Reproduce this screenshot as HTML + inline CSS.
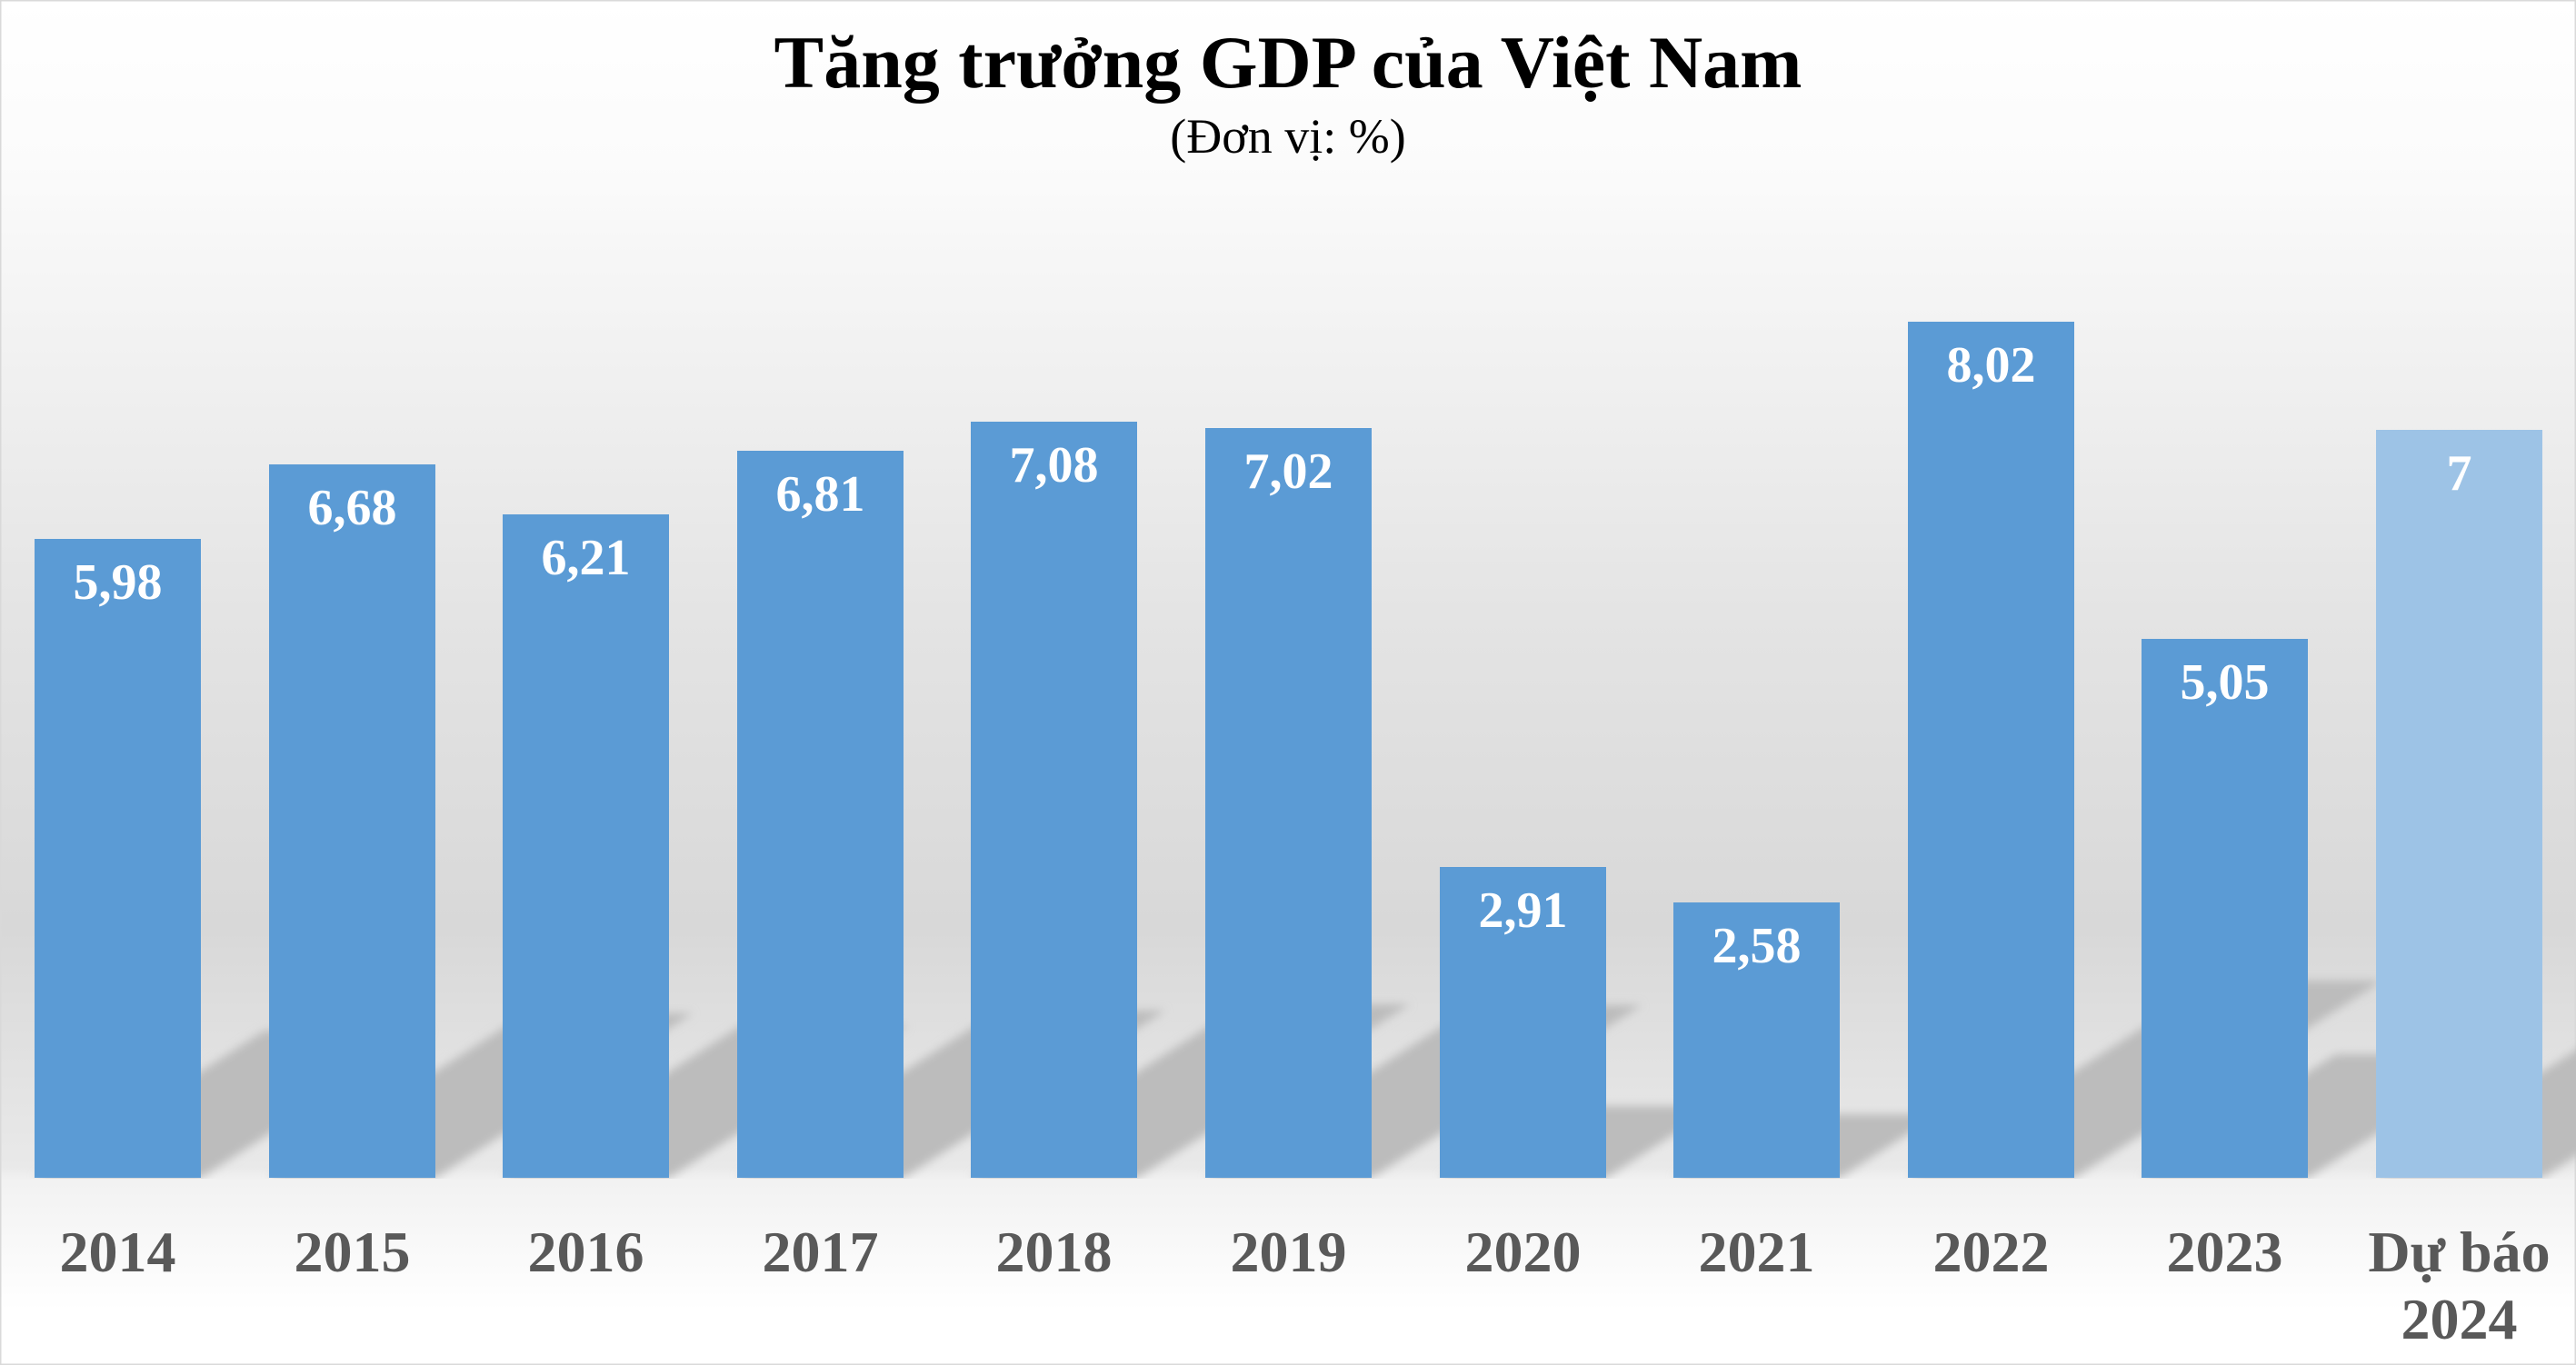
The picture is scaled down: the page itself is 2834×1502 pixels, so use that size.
<!DOCTYPE html>
<html><head><meta charset="utf-8"><style>
html,body{margin:0;padding:0;background:#fff}
svg{display:block}
</style></head><body>
<svg width="2834" height="1502" viewBox="0 0 2834 1502" xmlns="http://www.w3.org/2000/svg">
<defs>
<linearGradient id="bg" x1="0" y1="0" x2="0" y2="1502" gradientUnits="userSpaceOnUse">
<stop offset="0" stop-color="#ffffff"/>
<stop offset="0.12" stop-color="#fbfbfb"/>
<stop offset="0.45" stop-color="#e4e4e4"/>
<stop offset="0.68" stop-color="#d8d8d8"/>
<stop offset="0.855" stop-color="#e9e9e9"/>
<stop offset="0.865" stop-color="#f2f2f2"/>
<stop offset="0.96" stop-color="#ffffff"/>
<stop offset="1" stop-color="#ffffff"/>
</linearGradient>
<filter id="blur" x="-20%" y="-20%" width="140%" height="140%"><feGaussianBlur stdDeviation="5"/></filter>
<clipPath id="plot"><rect x="0" y="0" width="2834" height="1297"/></clipPath>
</defs>
<rect x="0" y="0" width="2834" height="1502" fill="url(#bg)"/>
<rect x="0.5" y="0.5" width="2833" height="1501" fill="none" stroke="#d9d9d9" stroke-width="2"/>
<g clip-path="url(#plot)" filter="url(#blur)" fill="#bcbcbc">
<polygon points="38,1296 221,1296 474,1134 291,1134"/>
<polygon points="296,1296 479,1296 762,1115 579,1115"/>
<polygon points="553,1296 736,1296 999,1128 816,1128"/>
<polygon points="811,1296 994,1296 1282,1112 1099,1112"/>
<polygon points="1068,1296 1251,1296 1551,1105 1368,1105"/>
<polygon points="1326,1296 1509,1296 1806,1106 1623,1106"/>
<polygon points="1584,1296 1767,1296 1890,1217 1707,1217"/>
<polygon points="1841,1296 2024,1296 2133,1226 1950,1226"/>
<polygon points="2099,1296 2282,1296 2621,1079 2438,1079"/>
<polygon points="2356,1296 2539,1296 2753,1160 2570,1160"/>
<polygon points="2614,1296 2797,1296 3093,1107 2910,1107"/>
</g>
<g fill="#5b9bd5">
<rect x="38" y="593" width="183" height="703"/>
<rect x="296" y="511" width="183" height="785"/>
<rect x="553" y="566" width="183" height="730"/>
<rect x="811" y="496" width="183" height="800"/>
<rect x="1068" y="464" width="183" height="832"/>
<rect x="1326" y="471" width="183" height="825"/>
<rect x="1584" y="954" width="183" height="342"/>
<rect x="1841" y="993" width="183" height="303"/>
<rect x="2099" y="354" width="183" height="942"/>
<rect x="2356" y="703" width="183" height="593"/>
</g>
<rect x="2614" y="473" width="183" height="823" fill="#9dc3e6"/>
<g font-family="'Liberation Serif', serif" font-weight="bold" font-size="56" fill="#ffffff" text-anchor="middle">
<text x="129.5" y="659">5,98</text>
<text x="387.5" y="577">6,68</text>
<text x="644.5" y="632">6,21</text>
<text x="902.5" y="562">6,81</text>
<text x="1159.5" y="530">7,08</text>
<text x="1417.5" y="537">7,02</text>
<text x="1675.5" y="1020">2,91</text>
<text x="1932.5" y="1059">2,58</text>
<text x="2190.5" y="420">8,02</text>
<text x="2447.5" y="769">5,05</text>
<text x="2705.5" y="539">7</text>
</g>
<g font-family="'Liberation Serif', serif" font-weight="bold" font-size="64" fill="#595959" text-anchor="middle">
<text x="129.5" y="1399">2014</text>
<text x="387.5" y="1399">2015</text>
<text x="644.5" y="1399">2016</text>
<text x="902.5" y="1399">2017</text>
<text x="1159.5" y="1399">2018</text>
<text x="1417.5" y="1399">2019</text>
<text x="1675.5" y="1399">2020</text>
<text x="1932.5" y="1399">2021</text>
<text x="2190.5" y="1399">2022</text>
<text x="2447.5" y="1399">2023</text>
<text x="2705.5" y="1399">Dự báo</text>
<text x="2705.5" y="1473">2024</text>
</g>
<text x="1417" y="96" font-family="'Liberation Serif', serif" font-weight="bold" font-size="82" fill="#000" text-anchor="middle">Tăng trưởng GDP của Việt Nam</text>
<text x="1417" y="168" font-family="'Liberation Serif', serif" font-size="54" fill="#000" text-anchor="middle">(Đơn vị: %)</text>
</svg>
</body></html>
